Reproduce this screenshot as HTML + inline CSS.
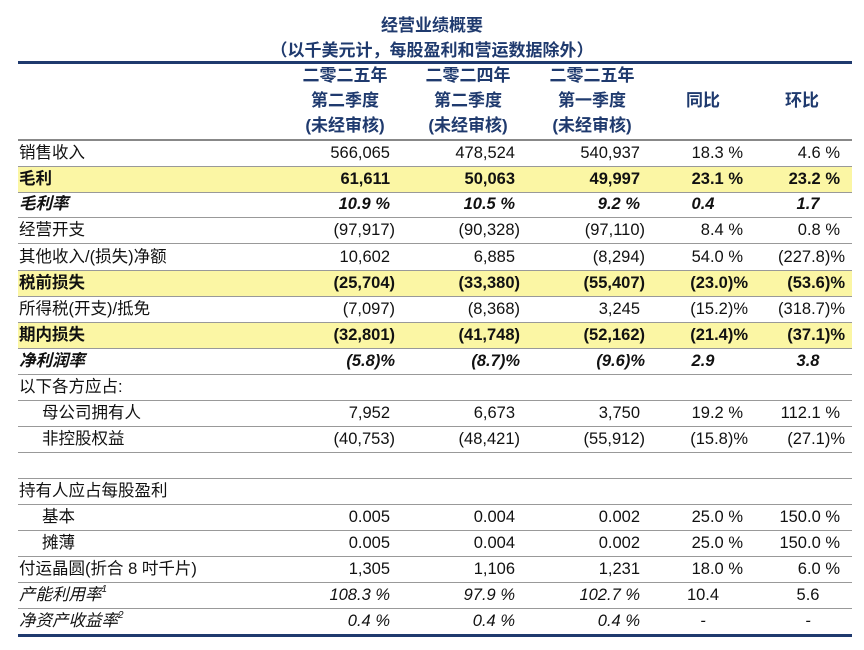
<!DOCTYPE html>
<html><head><meta charset="utf-8">
<style>
body{margin:0;background:#fff;width:864px;height:650px;overflow:hidden;position:relative;font-family:"Liberation Sans","Noto Sans CJK SC",sans-serif;color:#111;}
.t{position:absolute;left:0;width:864px;text-align:center;color:#1f3a6e;font-weight:bold;font-size:17px;}
.row{position:absolute;left:18px;width:834px;height:26px;border-bottom:1.5px solid #999;box-sizing:border-box;font-size:16.5px;}
.row.y{background:#fbf6a4;}
.row.b{font-weight:bold;}
.row.i{font-style:italic;font-weight:bold;}
.row.it{font-style:italic;}
.c{position:absolute;top:0;line-height:25px;white-space:nowrap;}
.lab{left:1px;}
.ind{left:24px;}
.up{font-style:normal;}
.sp{font-size:10px;display:inline-block;vertical-align:top;line-height:14px;}
.h{position:absolute;color:#1f3a6e;font-weight:bold;font-size:17px;text-align:center;width:130px;line-height:25px;}
</style></head><body>
<div class="t" style="top:11px;">经营业绩概要</div>
<div class="t" style="top:36px;">（以千美元计，每股盈利和营运数据除外）</div>
<div style="position:absolute;left:18px;top:61px;width:834px;height:3px;background:#1f3a6e;"></div>
<div style="position:absolute;left:0;top:63px;width:864px;height:77px;">
  <div class="h" style="left:280px;top:0;">二零二五年<br>第二季度<br>(未经审核)</div>
  <div class="h" style="left:403px;top:0;">二零二四年<br>第二季度<br>(未经审核)</div>
  <div class="h" style="left:527px;top:0;">二零二五年<br>第一季度<br>(未经审核)</div>
  <div class="h" style="left:638px;top:25px;">同比</div>
  <div class="h" style="left:737px;top:25px;">环比</div>
</div>
<div style="position:absolute;left:18px;top:139px;width:834px;height:2px;background:#888;"></div>
<div id="tbl"></div>
<div style="position:absolute;left:18px;top:634px;width:834px;height:3px;background:#1f3a6e;"></div>
<script>
const labels=["销售收入","毛利","毛利率","经营开支","其他收入/(损失)净额","税前损失","所得税(开支)/抵免","期内损失","净利润率","以下各方应占:","母公司拥有人","非控股权益","","持有人应占每股盈利","基本","摊薄","付运晶圆(折合 8 吋千片)","产能利用率<span class='sp'>1</span>","净资产收益率<span class='sp'>2</span>"];
const col1=["566,065","61,611","10.9 %","(97,917)","10,602","(25,704)","(7,097)","(32,801)","(5.8)%","","7,952","(40,753)","","","0.005","0.005","1,305","108.3 %","0.4 %"];
const col2=["478,524","50,063","10.5 %","(90,328)","6,885","(33,380)","(8,368)","(41,748)","(8.7)%","","6,673","(48,421)","","","0.004","0.004","1,106","97.9 %","0.4 %"];
const col3=["540,937","49,997","9.2 %","(97,110)","(8,294)","(55,407)","3,245","(52,162)","(9.6)%","","3,750","(55,912)","","","0.002","0.002","1,231","102.7 %","0.4 %"];
const yoy=["18.3 %","23.1 %","0.4","8.4 %","54.0 %","(23.0)%","(15.2)%","(21.4)%","2.9","","19.2 %","(15.8)%","","","25.0 %","25.0 %","18.0 %","10.4","-"];
const qoq=["4.6 %","23.2 %","1.7","0.8 %","(227.8)%","(53.6)%","(318.7)%","(37.1)%","3.8","","112.1 %","(27.1)%","","","150.0 %","150.0 %","6.0 %","5.6","-"];
const styles=["","y b","i","","","y b","","y b","i","","","","","","","","","it","it"];
const indent=[0,0,0,0,0,0,0,0,0,0,1,1,0,0,1,1,0,0,0];
const tops=[141,167,192,218,245,271,297,323,349,375,401,427,453,479,505,531,557,583,609];
const tbl=document.getElementById('tbl');
function cell(row,txt,right,name,center,upright){
  const d=document.createElement('div');
  d.className='c'+(upright?' up':'');
  
  
  const ends=/[)%]$/.test(txt)&&!/ %$/.test(txt);
  if(center){d.style.left=(center-18-40)+'px';d.style.width='80px';d.style.textAlign='center';}
  else d.style.right=(852-right-(ends?5:0))+'px';
  d.innerHTML=txt;row.appendChild(d);
}
labels.forEach((l,i)=>{
  const r=document.createElement('div');
  r.className='row '+styles[i];
  
  
  r.style.top=tops[i]+'px';
  const lb=document.createElement('div');
  lb.className='c '+(indent[i]?'ind':'lab');
  
  
  lb.innerHTML=l;r.appendChild(lb);
  const isRatio=(i===2||i===8||i===17);
  const up=(i===17);
  cell(r,col1[i],390,'value-q2-2025');
  cell(r,col2[i],515,'value-q2-2024');
  cell(r,col3[i],640,'value-q1-2025');
  if(isRatio||yoy[i]==='-'){cell(r,yoy[i],0,'value-yoy',703,up);cell(r,qoq[i],0,'value-qoq',808,up);}
  else{cell(r,yoy[i],743,'value-yoy');cell(r,qoq[i],840,'value-qoq');}
  tbl.appendChild(r);
});
</script>
</body></html>
